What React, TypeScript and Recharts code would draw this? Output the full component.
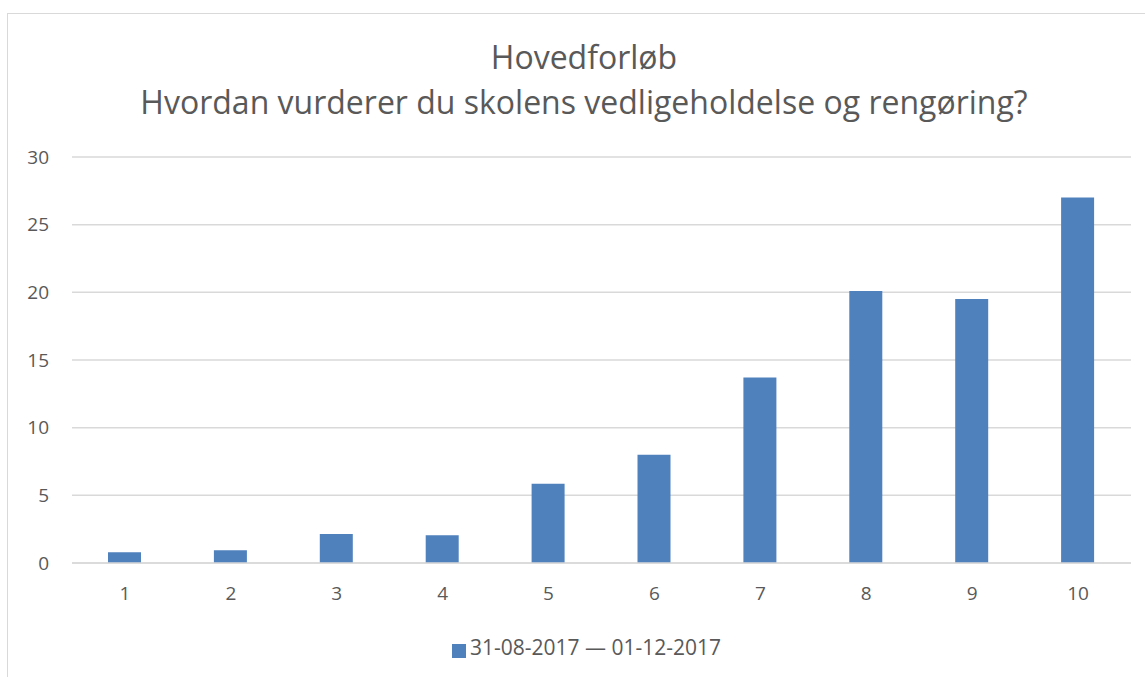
import { BarChart, Bar, XAxis, YAxis, CartesianGrid, Legend } from 'recharts';

const categories = ['1', '2', '3', '4', '5', '6', '7', '8', '9', '10'];
const values = [0.8, 0.95, 2.15, 2.05, 5.85, 8.0, 13.7, 20.1, 19.5, 27.0];
const yTicks = [0, 5, 10, 15, 20, 25, 30];
const seriesName = '31-08-2017 — 01-12-2017';

const data = categories.map((c, i) => ({ name: c, value: values[i] }));

const font = '"Open Sans", "Noto Sans", sans-serif';
const grey = '#595959';

export default function App() {
  return (
    <div style={{ position: 'fixed', left: 0, top: 0, width: 1145, height: 677, background: '#fff', overflow: 'hidden', fontFamily: font }}>
      <div style={{ position: 'absolute', left: 7, top: 13, width: 1200, height: 700, border: '1px solid #d9d9d9' }} />
      <div style={{ position: 'absolute', left: 0, width: 1168, top: 34, textAlign: 'center', fontSize: 32, color: grey, lineHeight: '45px' }}>
        <div>Hovedforløb</div>
        <div>Hvordan vurderer du skolens vedligeholdelse og rengøring?</div>
      </div>
      <div style={{ position: 'absolute', left: 0, top: 0 }}>
        <BarChart width={1145} height={677} data={data} margin={{ top: 157, right: 14, bottom: 56, left: 8 }}>
          <CartesianGrid vertical={false} stroke="#d9d9d9" strokeWidth={1.5} />
          <XAxis dataKey="name" height={30} tickLine={false} axisLine={{ stroke: '#d9d9d9', strokeWidth: 1.5 }} tick={{ fill: grey, fontSize: 19, fontFamily: font }} tickMargin={18} />
          <YAxis width={64} domain={[0, 30]} ticks={yTicks} tickLine={false} axisLine={false} tick={{ fill: grey, fontSize: 19, fontFamily: font }} tickMargin={17} />
          <Legend
            verticalAlign="bottom"
            iconType="square"
            iconSize={14}
            wrapperStyle={{ top: 633, paddingLeft: 22, fontFamily: font }}
            formatter={(v: string) => <span style={{ color: grey, fontSize: 21 }}>{v}</span>}
          />
          <Bar dataKey="value" name={seriesName} fill="#4f81bd" barSize={33} isAnimationActive={false} />
        </BarChart>
      </div>
    </div>
  );
}
